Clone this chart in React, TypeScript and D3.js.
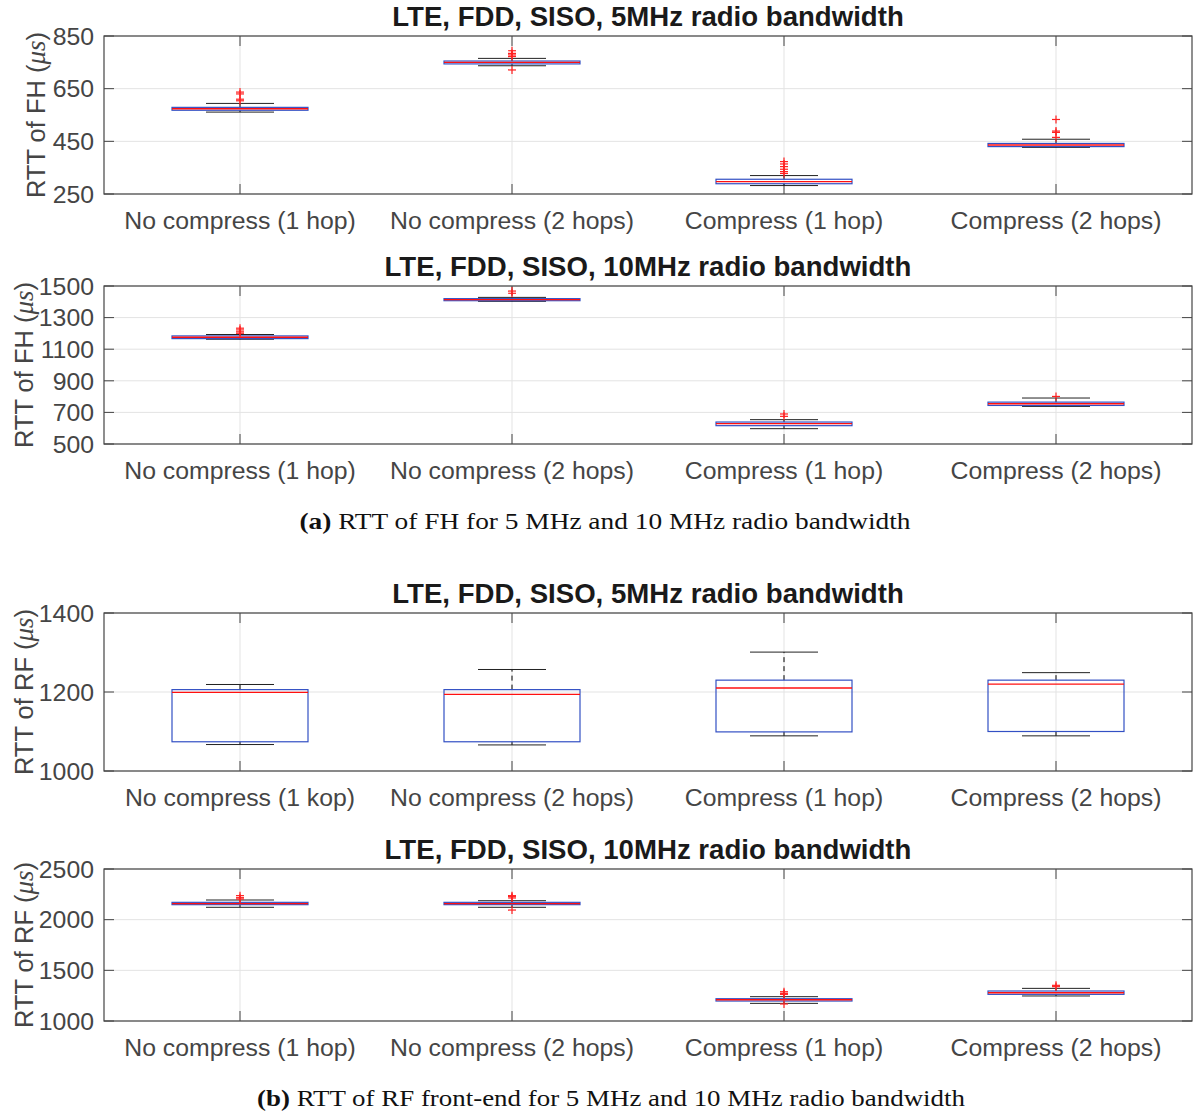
import React from "react";
import { scaleLinear, scalePoint } from "d3";

const categoriesTop = ["No compress (1 hop)", "No compress (2 hops)", "Compress (1 hop)", "Compress (2 hops)"];
const categoriesRf5 = ["No compress (1 kop)", "No compress (2 hops)", "Compress (1 hop)", "Compress (2 hops)"];

// (a) FH, 5 MHz
const fh5Median = [574, 750, 297, 436];
const fh5Q1 = [568, 744, 289, 430];
const fh5Q3 = [579, 755, 306, 442];
const fh5Lo = [561, 737, 282, 427];
const fh5Hi = [594, 765, 320, 458];
const fh5Outliers = [[637, 630, 610, 604], [794, 784, 778, 772, 721], [373, 364, 354, 344, 335, 328], [533, 489, 484, 465]];
const fh5Ticks = [250, 450, 650, 850];

// (a) FH, 10 MHz
const fh10Median = [1176, 1414, 629, 755];
const fh10Q1 = [1167, 1407, 616, 744];
const fh10Q3 = [1184, 1420, 639, 765];
const fh10Lo = [1163, 1403, 597, 738];
const fh10Hi = [1193, 1428, 654, 791];
const fh10Outliers = [[1233, 1222, 1210, 1201], [1468, 1454], [690, 675], [801]];
const fh10Ticks = [500, 700, 900, 1100, 1300, 1500];

// (b) RF, 5 MHz
const rf5Median = [1199, 1194, 1210, 1220];
const rf5Q1 = [1074, 1074, 1099, 1100];
const rf5Q3 = [1206, 1206, 1230, 1230];
const rf5Lo = [1067, 1066, 1089, 1089];
const rf5Hi = [1219, 1257, 1301, 1249];
const rf5Outliers = [[], [], [], []];
const rf5Ticks = [1000, 1200, 1400];

// (b) RF, 10 MHz
const rf10Median = [2158, 2158, 1210, 1279];
const rf10Q1 = [2148, 2148, 1197, 1263];
const rf10Q3 = [2171, 2171, 1220, 1296];
const rf10Lo = [2122, 2122, 1174, 1247];
const rf10Hi = [2194, 2187, 1240, 1322];
const rf10Outliers = [[2237, 2217, 2204], [2237, 2227, 2214, 2095], [1289, 1273, 1263, 1168], [1352, 1339]];
const rf10Ticks = [1000, 1500, 2000, 2500];

const LEFT = 104;
const RIGHT = 1192;
const TICK = 10;
const FONT = "'Liberation Sans', Arial, Helvetica, sans-serif";
const SERIF = "'Liberation Serif', 'DejaVu Serif', serif";
const AXIS_COLOR = "#454545";
const BOX_COLOR = "#3350c4";

function BoxPanel({ top, bottom, title, yLabel, yLabelX, cats, ticks, median, q1, q3, lo, hi, outliers }) {
  const x = scalePoint().domain(cats).range([LEFT, RIGHT]).padding(0.5);
  const y = scaleLinear().domain([ticks[0], ticks[ticks.length - 1]]).range([bottom, top]);
  const boxW = x.step() * 0.5;
  const capW = boxW / 2;
  const cy = (top + bottom) / 2;

  return (
    <g>
      {/* grid */}
      {ticks.map((t) => (
        <line key={"gy" + t} x1={LEFT} x2={RIGHT} y1={y(t)} y2={y(t)} stroke="#e3e3e3" />
      ))}
      {cats.map((c) => (
        <line key={"gx" + c} x1={x(c)} x2={x(c)} y1={top} y2={bottom} stroke="#e3e3e3" />
      ))}

      {/* axes box and ticks */}
      <rect x={LEFT} y={top} width={RIGHT - LEFT} height={bottom - top} fill="none" stroke={AXIS_COLOR} strokeWidth={1.2} />
      {ticks.map((t) => (
        <g key={"ty" + t}>
          <line x1={LEFT} x2={LEFT + TICK} y1={y(t)} y2={y(t)} stroke={AXIS_COLOR} />
          <line x1={RIGHT - TICK} x2={RIGHT} y1={y(t)} y2={y(t)} stroke={AXIS_COLOR} />
          <text x={LEFT - 10} y={y(t) + 8.8} textAnchor="end" fontSize={24.8} fill={AXIS_COLOR} fontFamily={FONT}>
            {t}
          </text>
        </g>
      ))}
      {cats.map((c) => (
        <g key={"tx" + c}>
          <line x1={x(c)} x2={x(c)} y1={bottom} y2={bottom - TICK} stroke={AXIS_COLOR} />
          <line x1={x(c)} x2={x(c)} y1={top} y2={top + TICK} stroke={AXIS_COLOR} />
          <text x={x(c)} y={bottom + 34.5} textAnchor="middle" fontSize={24.8} fill={AXIS_COLOR} fontFamily={FONT}>
            {c}
          </text>
        </g>
      ))}

      {/* boxes */}
      {cats.map((c, i) => {
        const cx = x(c);
        return (
          <g key={"b" + c}>
            <line x1={cx} x2={cx} y1={y(q3[i])} y2={y(hi[i])} stroke="#000" strokeDasharray="5,4" />
            <line x1={cx} x2={cx} y1={y(q1[i])} y2={y(lo[i])} stroke="#000" strokeDasharray="5,4" />
            <line x1={cx - capW / 2} x2={cx + capW / 2} y1={y(hi[i])} y2={y(hi[i])} stroke="#222" />
            <line x1={cx - capW / 2} x2={cx + capW / 2} y1={y(lo[i])} y2={y(lo[i])} stroke="#222" />
            <rect x={cx - boxW / 2} y={y(q3[i])} width={boxW} height={y(q1[i]) - y(q3[i])} fill="none" stroke={BOX_COLOR} strokeWidth={1.2} />
            <line x1={cx - boxW / 2} x2={cx + boxW / 2} y1={y(median[i])} y2={y(median[i])} stroke="#ff1010" strokeWidth={1.4} />
            {outliers[i].map((v, j) => (
              <g key={j} stroke="#ff2020" strokeWidth={1.2}>
                <line x1={cx - 4} x2={cx + 4} y1={y(v)} y2={y(v)} />
                <line x1={cx} x2={cx} y1={y(v) - 4} y2={y(v) + 4} />
              </g>
            ))}
          </g>
        );
      })}

      {/* title and y label */}
      <text x={(LEFT + RIGHT) / 2} y={top - 10} textAnchor="middle" fontSize={27.6} fontWeight="bold" fill="#1a1a1a" fontFamily={FONT}>
        {title}
      </text>
      <text transform={`translate(${yLabelX}, ${cy}) rotate(-90)`} textAnchor="middle" fontSize={25.5} fill={AXIS_COLOR} fontFamily={FONT}>
        {yLabel} (<tspan fontStyle="italic" fontFamily={SERIF} fontSize={27}>μs</tspan>)
      </text>
    </g>
  );
}

export default function App() {
  return (
    <svg width={1196} height={1117} style={{ position: "absolute", left: 0, top: 0, background: "#fff" }}>
      <rect width={1196} height={1117} fill="#fff" />
      <BoxPanel top={36} bottom={194} title="LTE, FDD, SISO, 5MHz radio bandwidth" yLabel="RTT of FH" yLabelX={45}
        cats={categoriesTop} ticks={fh5Ticks} median={fh5Median} q1={fh5Q1} q3={fh5Q3} lo={fh5Lo} hi={fh5Hi} outliers={fh5Outliers} />
      <BoxPanel top={286} bottom={444} title="LTE, FDD, SISO, 10MHz radio bandwidth" yLabel="RTT of FH" yLabelX={33}
        cats={categoriesTop} ticks={fh10Ticks} median={fh10Median} q1={fh10Q1} q3={fh10Q3} lo={fh10Lo} hi={fh10Hi} outliers={fh10Outliers} />
      <text x={605} y={529} textAnchor="middle" fontSize={23} fontFamily={SERIF} fill="#111" textLength={611} lengthAdjust="spacingAndGlyphs">
        <tspan fontWeight="bold">(a)</tspan> RTT of FH for 5 MHz and 10 MHz radio bandwidth
      </text>

      <BoxPanel top={613} bottom={771} title="LTE, FDD, SISO, 5MHz radio bandwidth" yLabel="RTT of RF" yLabelX={33}
        cats={categoriesRf5} ticks={rf5Ticks} median={rf5Median} q1={rf5Q1} q3={rf5Q3} lo={rf5Lo} hi={rf5Hi} outliers={rf5Outliers} />
      <BoxPanel top={869} bottom={1021} title="LTE, FDD, SISO, 10MHz radio bandwidth" yLabel="RTT of RF" yLabelX={33}
        cats={categoriesTop} ticks={rf10Ticks} median={rf10Median} q1={rf10Q1} q3={rf10Q3} lo={rf10Lo} hi={rf10Hi} outliers={rf10Outliers} />
      <text x={611} y={1106} textAnchor="middle" fontSize={23} fontFamily={SERIF} fill="#111" textLength={708} lengthAdjust="spacingAndGlyphs">
        <tspan fontWeight="bold">(b)</tspan> RTT of RF front-end for 5 MHz and 10 MHz radio bandwidth
      </text>
    </svg>
  );
}
